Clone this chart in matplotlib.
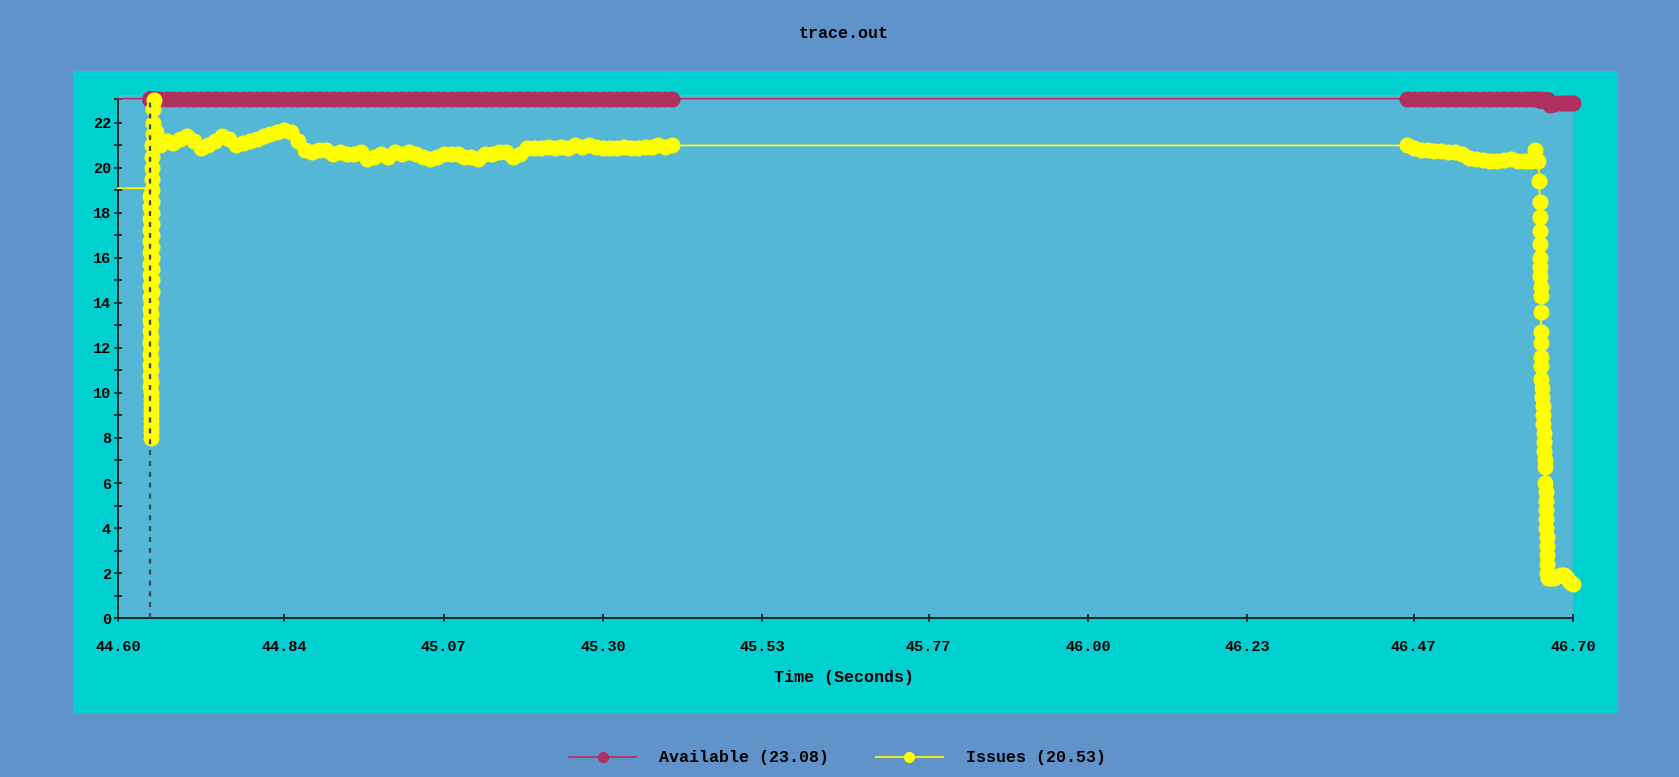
import matplotlib
matplotlib.use("Agg")
import matplotlib.pyplot as plt
from matplotlib.lines import Line2D
from matplotlib.patches import Rectangle

# trace.out samples (seconds)
lead_t = [44.600]
lead_issues = [19.1]

# start-up dip and recovery
fall_t = [44.64600, 44.64605, 44.64610, 44.64615, 44.64620, 44.64625, 44.64630, 44.64635,
          44.64640, 44.64645, 44.64650, 44.64655, 44.64660, 44.64665, 44.64670, 44.64675,
          44.64680, 44.64685, 44.64690, 44.64695, 44.64700, 44.64705, 44.64710, 44.64715]
fall_issues = [19.1, 18.75, 18.25, 17.75, 17.25, 16.75, 16.25, 15.75,
               15.25, 14.75, 14.25, 13.75, 13.25, 12.75, 12.25, 11.75,
               11.25, 10.75, 10.25, 9.75, 9.25, 8.75, 8.25, 8.0]

rise_t = [44.6472, 44.6473, 44.6474, 44.6475, 44.6476, 44.6477, 44.6478, 44.6479,
          44.6480, 44.6481, 44.6482, 44.6483, 44.6484, 44.6485, 44.6486, 44.6487,
          44.6488, 44.6489, 44.6490, 44.6491, 44.6492, 44.6493, 44.6494, 44.6495,
          44.6496, 44.6497, 44.6498, 44.6499, 44.6500, 44.6520, 44.6550]
rise_issues = [8.5, 9.0, 9.5, 10.0, 10.5, 11.0, 11.5, 12.0,
               12.5, 13.0, 13.5, 14.0, 14.5, 15.0, 15.5, 16.0,
               16.5, 17.0, 17.5, 18.0, 18.5, 19.0, 19.5, 20.0,
               20.5, 21.0, 21.5, 22.0, 22.6, 23.0, 21.6]

left_t = [44.66, 44.67, 44.68, 44.69, 44.70, 44.71, 44.72, 44.73, 44.74, 44.75,
          44.76, 44.77, 44.78, 44.79, 44.80, 44.81, 44.82, 44.83, 44.84, 44.85,
          44.86, 44.87, 44.88, 44.89, 44.90, 44.91, 44.92, 44.93, 44.94, 44.95,
          44.96, 44.97, 44.98, 44.99, 45.00, 45.01, 45.02, 45.03, 45.04, 45.05,
          45.06, 45.07, 45.08, 45.09, 45.10, 45.11, 45.12, 45.13, 45.14, 45.15,
          45.16, 45.17, 45.18, 45.19, 45.20, 45.21, 45.22, 45.23, 45.24, 45.25,
          45.26, 45.27, 45.28, 45.29, 45.30, 45.31, 45.32, 45.33, 45.34, 45.35,
          45.36, 45.37, 45.38, 45.39, 45.40]
left_issues = [21.0, 21.2, 21.1, 21.3, 21.4, 21.2, 20.9, 21.0, 21.2, 21.4,
               21.3, 21.0, 21.1, 21.2, 21.3, 21.4, 21.5, 21.6, 21.7, 21.6,
               21.2, 20.8, 20.7, 20.8, 20.8, 20.6, 20.7, 20.6, 20.6, 20.7,
               20.4, 20.5, 20.6, 20.5, 20.7, 20.6, 20.7, 20.6, 20.5, 20.4,
               20.5, 20.6, 20.6, 20.6, 20.5, 20.5, 20.4, 20.6, 20.6, 20.7,
               20.7, 20.5, 20.6, 20.9, 20.9, 20.9, 20.95, 20.9, 20.95, 20.9,
               21.0, 20.95, 21.0, 20.95, 20.9, 20.9, 20.9, 20.95, 20.9, 20.9,
               20.95, 20.95, 21.0, 20.95, 21.0]

right_t = [46.46, 46.47, 46.48, 46.49, 46.50, 46.51, 46.52, 46.53, 46.54, 46.55,
           46.56, 46.57, 46.58, 46.59, 46.60, 46.61, 46.62, 46.63, 46.64, 46.645,
           46.650]
right_issues = [21.0, 20.9, 20.8, 20.8, 20.75, 20.75, 20.7, 20.7, 20.6, 20.45,
                20.4, 20.35, 20.3, 20.3, 20.35, 20.4, 20.3, 20.3, 20.3, 20.8,
                20.3]

drop_t = [46.6515, 46.6517, 46.6519, 46.6521, 46.6523, 46.6525, 46.6527, 46.6529,
          46.6531, 46.6533, 46.6535, 46.6537, 46.6539, 46.6541, 46.6543, 46.6545,
          46.6550, 46.6555, 46.6560, 46.6565, 46.6570, 46.6575, 46.6580, 46.6585,
          46.6590, 46.6595, 46.6600, 46.6603, 46.6606, 46.6609, 46.6612, 46.6615,
          46.6618, 46.6621, 46.6624, 46.6627, 46.6630, 46.6635]
drop_issues = [19.4, 18.5, 17.8, 17.2, 16.6, 16.0, 15.6, 15.2,
               14.7, 14.3, 13.6, 12.7, 12.2, 11.6, 11.2, 10.6,
               10.2, 9.8, 9.4, 9.0, 8.6, 8.2, 7.8, 7.4,
               7.0, 6.7, 6.0, 5.6, 5.2, 4.8, 4.4, 4.0,
               3.6, 3.2, 2.8, 2.4, 2.0, 1.8]

tail_t = [46.667, 46.672, 46.677, 46.682, 46.687, 46.692, 46.696, 46.700]
tail_issues = [1.8, 1.8, 1.85, 1.9, 1.9, 1.8, 1.6, 1.5]
tail_available = [22.8, 22.85, 22.9, 22.9, 22.9, 22.9, 22.9, 22.9]

time_s = lead_t + fall_t + rise_t + left_t + right_t + drop_t + tail_t
issues = (lead_issues + fall_issues + rise_issues + left_issues + right_issues
          + drop_issues + tail_issues)
n_full = len(lead_t) + len(fall_t) + len(rise_t) + len(left_t) + len(right_t)
available = [23.08] * n_full + [23.0] * len(drop_t) + tail_available

start_marker = 44.6465
x_ticks = [44.60, 44.84, 45.07, 45.30, 45.53, 45.77, 46.00, 46.23, 46.47, 46.70]
x_ticklabels = ["44.60", "44.84", "45.07", "45.30", "45.53",
                "45.77", "46.00", "46.23", "46.47", "46.70"]

plt.rcParams['font.family'] = ['Liberation Mono', 'DejaVu Sans Mono']
plt.rcParams['font.weight'] = 'bold'

fig = plt.figure(figsize=(16.79, 7.77), dpi=100, facecolor='#5f93c9')
fig.patches.append(Rectangle((0.0435, 0.0811), 0.9202, 0.8275, transform=fig.transFigure,
                             facecolor='#00d0d0', edgecolor='none', zorder=0))

ax = fig.add_axes([0.07028, 0.2046, 0.8666, 0.6731], facecolor='#54b7d6')
ax.set_zorder(1)

red = '#b03060'
yel = '#ffff00'
every = range(2, len(time_s))

ax.plot(time_s, available, color=red, lw=1.2, marker='o', ms=10.5, mec=red,
        markevery=every, clip_on=False, zorder=3)
ax.plot(time_s, issues, color=yel, lw=1.2, marker='o', ms=10.5, mec=yel,
        markevery=every, clip_on=False, zorder=4)
ax.vlines(start_marker, 0, 23.0, colors='#3f4f4f', linestyles=(0, (2.1, 2.5)),
          lw=1.7, zorder=5)

ax.set_xlim(44.60, 46.70)
ax.set_ylim(0, 23.24)
for side in ['top', 'right']:
    ax.spines[side].set_visible(False)
for side in ['left', 'bottom']:
    ax.spines[side].set_color('#122a2a')
    ax.spines[side].set_linewidth(1.4)
ax.spines['left'].set_bounds(0, 23.08)

ax.set_yticks(range(0, 23, 2))
ax.set_yticks(list(range(1, 23, 2)) + [23.08], minor=True)
ax.set_xticks(x_ticks)
ax.set_xticklabels(x_ticklabels)
ax.tick_params(axis='both', which='both', direction='inout', length=6, width=1.3,
               color='#122a2a', labelsize=11, labelcolor='black')
ax.tick_params(axis='x', pad=13)
ax.tick_params(axis='y', pad=2)

fig.text(0.5027, 0.9575, 'trace.out', ha='center', va='center', fontsize=12)
fig.text(0.5027, 0.1287, 'Time (Seconds)', ha='center', va='center', fontsize=12)

handles = [Line2D([], [], color=red, lw=1.2, marker='o', ms=7, mec=red),
           Line2D([], [], color='#e6e633', lw=1.5, marker='o', ms=7, mec=yel, mfc=yel)]
fig.legend(handles, ['Available (23.08)', 'Issues (20.53)'], loc='center',
           bbox_to_anchor=(0.499, 0.0245), ncol=2, frameon=False, fontsize=12,
           handlelength=4.0, handletextpad=1.4, columnspacing=2.8)

fig.savefig('out.png', dpi=100, facecolor=fig.get_facecolor())
